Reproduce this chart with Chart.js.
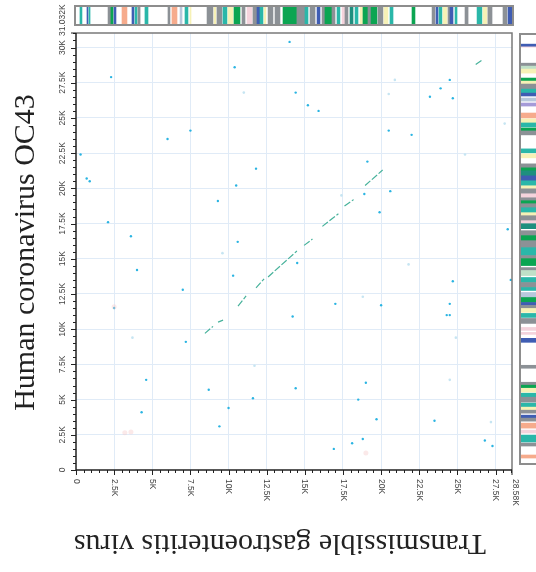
<!DOCTYPE html>
<html>
<head>
<meta charset="utf-8">
<script src="https://cdn.jsdelivr.net/npm/chart.js"></script>
<style>
  body { margin: 0; width: 536px; height: 572px; overflow: hidden; background: #fff; position: relative; }
  #main { position: absolute; left: 0; top: 0; }
  .strip { position: absolute; border: 2px solid #8d8d8d; box-sizing: border-box; background: #fff; }
  .strip canvas { display: block; }
  #topStrip { left: 74px; top: 5px; width: 440px; height: 21px; }
  #sideStrip { left: 519px; top: 33px; width: 30px; height: 432px; }
</style>
</head>
<body>
<canvas id="main" width="536" height="572"></canvas>
<div class="strip" id="topStrip"><canvas id="topC" width="436" height="17"></canvas></div>
<div class="strip" id="sideStrip"><canvas id="sideC" width="26" height="428"></canvas></div>
<script>
// genome lengths (bp)
const xMax = 28580;   // Transmissible gastroenteritis virus
const yMax = 31032;   // Human coronavirus OC43
const xTicks = [0, 2500, 5000, 7500, 10000, 12500, 15000, 17500, 20000, 22500, 25000, 27500, 28580];
const yTicks = [0, 2500, 5000, 7500, 10000, 12500, 15000, 17500, 20000, 22500, 25000, 27500, 30000, 31032];

// match segments along the main diagonal: [x1, y1, x2, y2]
const diagSegments = [
  [8450, 9700, 8980, 10200],
  [9310, 10500, 9640, 10640],
  [10620, 11640, 11150, 12360],
  [11800, 12930, 12330, 13570],
  [12590, 13710, 14480, 15550],
  [14950, 15950, 15500, 16400],
  [16150, 17300, 17200, 18200],
  [17600, 18750, 18200, 19200],
  [18950, 20200, 20100, 21300],
  [26200, 28800, 26600, 29100]
];

// isolated hits
const dotsX = [2300,10400,6000,7500,300,700,900,10500,11800,14000,14400,15200,15900,24500,23900,23200,24700,20500,22000,19100,20600,18900,2100,3600,4000,7000,2500,7200,4600,8700,9300,10600,10300,11600,19900,14500,24700,17000,20000,24500,14200,24300,24500,28300,28500,19000,14400,4300,10000,9400,19700,23500,26800,27300,18800,18100,16900,18500];
const dotsY = [27900,28600,23500,24100,22400,20700,20500,20200,21400,30400,26800,25900,25500,27700,27100,26500,26400,24100,23800,21900,19800,19600,17600,16600,14200,12800,11500,9100,6400,5700,19100,16200,13800,5100,18300,14700,13400,11800,11700,11800,10900,11000,11000,17100,13500,6200,5800,4100,4400,3100,3600,3500,2100,1700,2200,1900,1500,5000];
const faintX = [11000,20900,20500,28100,25500,3700,9600,11700,21800,18800,24900,24500,27200,17400];
const faintY = [26800,27700,26700,24600,22400,9400,15400,7400,14600,12300,9400,6400,3400,19500];
const pinkX = [3200, 3600, 19000, 2500];
const pinkY = [2650, 2700, 1200, 11600];

// annotation features: [start, end, kind]
const topFeatures = [
  [260,390,'teal'],[720,790,'blue'],[850,920,'teal'],[2100,2290,'gray'],[2290,2430,'green'],[2490,2620,'blue'],
  [3015,3340,'salmon'],[3670,3800,'blue'],[3870,4000,'teal'],[4060,4200,'gray'],[4520,4720,'teal'],[6030,6160,'gray'],
  [6290,6620,'salmon'],[6820,6950,'lightblue'],[7145,7340,'teal'],[7470,7540,'yellow'],[8590,8980,'gray'],[9050,9170,'yellow'],
  [9240,9570,'gray'],[9636,9900,'teal'],[9964,10290,'yellow'],[10357,10750,'green'],[10880,11080,'gray'],[11210,11540,'pink'],
  [11600,11865,'gray'],[11865,12060,'blue'],[12060,12260,'teal'],[12330,12450,'yellow'],[12590,12910,'gray'],[13045,13370,'gray'],
  [13570,14480,'green'],[14480,15010,'gray'],[15010,15210,'teal'],[15340,15670,'gray'],[15800,15995,'blue'],[16125,16320,'gray'],
  [16320,16780,'green'],[16780,16980,'gray'],[17110,17300,'teal'],[17440,17630,'pink'],[17633,17830,'gray'],[17960,18160,'dkteal'],
  [18290,18485,'teal'],[18617,18813,'yellow'],[18813,19140,'green'],[19140,19340,'gray'],[19340,19730,'green'],[19797,20124,'gray'],
  [20190,20450,'yellow'],[20583,20780,'teal'],[22025,22220,'green'],[23340,23530,'gray'],[23600,23730,'blue'],[23795,23990,'teal'],
  [24060,24320,'yellow'],[24385,24516,'gray'],[24516,24713,'blue'],[24844,24975,'teal'],[25500,25700,'gray'],[26290,26610,'teal'],
  [26680,26940,'yellow'],[27000,27270,'gray'],[27990,28250,'gray'],[28320,28580,'blue']
];
const sideFeatures = [
  [30150,30220,'pink'],[30220,30370,'blue'],[28775,28990,'gray'],[28560,28775,'lightgreen'],[28270,28560,'yellow'],
  [27690,27910,'green'],[27475,27690,'yellow'],[27110,27475,'gray'],[26820,27110,'teal'],[26610,26820,'blue'],
  [26240,26460,'lightblue'],[25880,26100,'purple'],[25015,25375,'salmon'],[24655,24945,'yellow'],[24365,24655,'teal'],
  [24075,24290,'green'],[23790,24075,'gray'],[22485,22775,'teal'],[22125,22415,'yellow'],[21400,21690,'gray'],
  [21185,21400,'green'],[20820,21185,'dkteal'],[20460,20820,'blue'],[20100,20460,'teal'],[19880,20100,'yellow'],
  [19520,19880,'gray'],[19230,19520,'pink'],[19015,19230,'gray'],[18800,19015,'green'],[18510,18800,'gray'],
  [18150,18510,'teal'],[17930,18150,'yellow'],[17570,17930,'gray'],[17350,17570,'pink'],[16990,17350,'dkteal'],
  [16485,16845,'gray'],[16120,16485,'green'],[15615,16120,'gray'],[15040,15615,'teal'],[14820,15040,'gray'],
  [14315,14820,'green'],[13955,14170,'gray'],[13590,13955,'lightgreen'],[13085,13450,'teal'],[12725,13085,'gray'],
  [12510,12725,'teal'],[12000,12365,'lightblue'],[11640,12000,'green'],[11425,11640,'blue'],[11205,11425,'gray'],
  [10920,11205,'yellow'],[10555,10845,'teal'],[10120,10480,'gray'],[9615,9830,'pink'],[9325,9470,'pink'],
  [8750,9040,'blue'],[6870,7085,'gray'],[5640,5855,'gray'],[5420,5640,'green'],[5135,5420,'yellow'],
  [4770,5060,'teal'],[4410,4770,'gray'],[4050,4340,'teal'],[3830,4050,'yellow'],[3615,3830,'gray'],
  [3255,3470,'blue'],[3035,3255,'gray'],[2530,2890,'salmon'],[2170,2385,'pink'],[1520,2025,'teal'],
  [1230,1445,'gray'],[360,580,'salmon']
];

const kindColor = {
  gray: '#8c9196', teal: '#2ab7a9', green: '#0ba552', blue: '#3f5db3', salmon: '#f6ab8c',
  yellow: '#f6f1b6', pink: '#f4d3dc', purple: '#a59bd8', lightgreen: '#bfe0c8', lightblue: '#b8c8dc', dkteal: '#1f8f7f'
};

function fmt(v) { return v === 0 ? '0' : (v / 1000) + 'K'; }

const diagData = [];
diagSegments.forEach(s => {
  diagData.push({x: s[0], y: s[1]}, {x: s[2], y: s[3]}, {x: s[2], y: null});
});

const axesPlugin = {
  id: 'axes',
  afterDraw(chart) {
    const {ctx, chartArea: a, scales: {x, y}} = chart;
    ctx.save();
    ctx.lineWidth = 1.5;
    ctx.strokeStyle = '#7a7a7a';
    ctx.beginPath();
    ctx.moveTo(a.left, a.top); ctx.lineTo(a.right, a.top); ctx.lineTo(a.right, a.bottom);
    ctx.stroke();
    ctx.strokeStyle = '#222';
    ctx.beginPath();
    ctx.moveTo(a.left, a.top); ctx.lineTo(a.left, a.bottom); ctx.lineTo(a.right, a.bottom);
    ctx.stroke();

    ctx.lineWidth = 1;
    ctx.beginPath();
    for (let v = 0; v <= xMax; v += 500) {
      const p = Math.round(x.getPixelForValue(v)) + 0.5;
      ctx.moveTo(p, a.bottom); ctx.lineTo(p, a.bottom + (v % 2500 === 0 ? 5 : 3));
    }
    const pxm = x.getPixelForValue(xMax);
    ctx.moveTo(pxm, a.bottom); ctx.lineTo(pxm, a.bottom + 5);
    for (let v = 0; v <= yMax; v += 500) {
      const p = Math.round(y.getPixelForValue(v)) + 0.5;
      ctx.moveTo(a.left, p); ctx.lineTo(a.left - (v % 2500 === 0 ? 5 : 3), p);
    }
    const pym = y.getPixelForValue(yMax);
    ctx.moveTo(a.left, pym); ctx.lineTo(a.left - 5, pym);
    ctx.stroke();

    // tick labels
    ctx.fillStyle = '#444';
    ctx.font = '8.5px "Liberation Sans", Arial, sans-serif';
    ctx.textBaseline = 'middle';
    xTicks.forEach(v => {
      const px = x.getPixelForValue(v) + (v === xMax ? 3 : 0);
      ctx.save();
      ctx.translate(px, a.bottom + 9);
      ctx.rotate(Math.PI / 2);
      ctx.textAlign = 'left';
      ctx.fillText(fmt(v), 0, 0);
      ctx.restore();
    });
    yTicks.forEach(v => {
      const py = y.getPixelForValue(v);
      ctx.save();
      ctx.translate(a.left - 13, v === yMax ? py + 3 : py);
      ctx.rotate(-Math.PI / 2);
      ctx.textAlign = v === yMax ? 'left' : 'center';
      ctx.fillText(fmt(v), 0, 0);
      ctx.restore();
    });

    // axis titles
    ctx.fillStyle = '#222';
    ctx.font = '30px "Liberation Serif", "Times New Roman", serif';
    ctx.textAlign = 'center';
    ctx.save();
    ctx.translate(26, (a.top + a.bottom) / 2 + 1);
    ctx.rotate(-Math.PI / 2);
    ctx.fillText('Human coronavirus OC43', 0, 0);
    ctx.restore();
    ctx.save();
    ctx.translate((a.left + a.right) / 2 - 14, 543);
    ctx.rotate(Math.PI);
    ctx.fillText('Transmissible gastroenteritis virus', 0, 0);
    ctx.restore();
    ctx.restore();
  }
};

function gridColor(max) {
  return c => (c.tick.value === 0 || c.tick.value === max) ? 'rgba(0,0,0,0)' : '#e0ebf7';
}

new Chart(document.getElementById('main'), {
  type: 'scatter',
  data: {
    datasets: [
      { data: pinkX.map((v, i) => ({x: v, y: pinkY[i]})), pointRadius: 2.5, pointBorderWidth: 0, backgroundColor: 'rgba(246,200,200,0.4)' },
      { data: faintX.map((v, i) => ({x: v, y: faintY[i]})), pointRadius: 1.3, pointBorderWidth: 0, backgroundColor: '#c6e5f2' },
      { type: 'line', data: diagData, borderColor: '#47b29b', borderWidth: 1.2, borderDash: [7, 2], pointRadius: 0, spanGaps: false, fill: false },
      { data: dotsX.map((v, i) => ({x: v, y: dotsY[i]})), pointRadius: 1.2, pointBorderWidth: 0, backgroundColor: '#2ab4e2' }
    ]
  },
  options: {
    responsive: false,
    animation: false,
    layout: { padding: { left: 76, right: 24, top: 33, bottom: 102 } },
    plugins: { legend: { display: false }, tooltip: { enabled: false } },
    scales: {
      x: {
        type: 'linear', min: 0, max: xMax,
        afterBuildTicks: s => { s.ticks = xTicks.map(v => ({value: v})); },
        ticks: { display: false },
        grid: { color: gridColor(xMax), drawTicks: false, lineWidth: 1 },
        border: { display: false }
      },
      y: {
        type: 'linear', min: 0, max: yMax,
        afterBuildTicks: s => { s.ticks = yTicks.map(v => ({value: v})); },
        ticks: { display: false },
        grid: { color: gridColor(yMax), drawTicks: false, lineWidth: 1 },
        border: { display: false }
      }
    }
  },
  plugins: [axesPlugin]
});

// top annotation strip (x genome)
new Chart(document.getElementById('topC'), {
  type: 'bar',
  data: {
    labels: ['g'],
    datasets: [{
      data: topFeatures.map(f => ({x: [f[0], f[1]], y: 'g'})),
      backgroundColor: topFeatures.map(f => kindColor[f[2]]),
      borderWidth: 0, barPercentage: 1, categoryPercentage: 1
    }]
  },
  options: {
    indexAxis: 'y', responsive: false, animation: false,
    layout: { padding: 0 },
    plugins: { legend: { display: false }, tooltip: { enabled: false } },
    scales: {
      x: { type: 'linear', min: 0, max: xMax, display: false },
      y: { display: false }
    }
  }
});

// side annotation strip (y genome)
new Chart(document.getElementById('sideC'), {
  type: 'bar',
  data: {
    labels: ['g'],
    datasets: [{
      data: sideFeatures.map(f => ({x: 'g', y: [f[0], f[1]]})),
      backgroundColor: sideFeatures.map(f => kindColor[f[2]]),
      borderWidth: 0, barPercentage: 1, categoryPercentage: 1
    }]
  },
  options: {
    responsive: false, animation: false,
    layout: { padding: 0 },
    plugins: { legend: { display: false }, tooltip: { enabled: false } },
    scales: {
      x: { display: false },
      y: { type: 'linear', min: 0, max: yMax, display: false }
    }
  }
});
</script>
</body>
</html>
